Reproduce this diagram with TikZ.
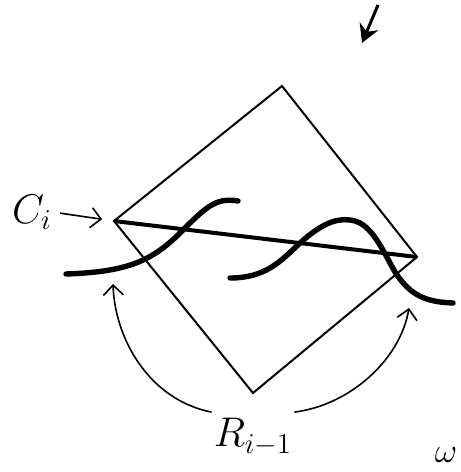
\documentclass[tikz,border=0pt]{standalone}
\usetikzlibrary{arrows.meta,calc,positioning}
\tikzset{
  edge/.style={line width=1pt, draw=black},
  chord/.style={line width=2pt, draw=black},
  wave/.style={line width=2.7pt, draw=black, line cap=round},
  arrow/.style={-{Straight Barb[length=5pt,width=10pt]}, line width=0.8pt, draw=black},
  pointer/.style={-{Stealth[length=9pt,width=10pt]}, line width=1.5pt, draw=black},
  lettering/.style={font=\fontsize{20}{24}\selectfont, inner sep=0pt}
}

\begin{document}
\begin{tikzpicture}[x=0.5pt,y=-0.5pt]
  \useasboundingbox (0,0) rectangle (461,472);
  % corners of the square
  \coordinate (top) at (282,86);
  \coordinate (lft) at (114,221);
  \coordinate (bot) at (253,393);
  \coordinate (rgt) at (417,257);
  \draw[edge] (top) -- (rgt) -- (bot) -- (lft) -- cycle;
  \draw[chord] (lft) -- (rgt);

  % the two strands
  \draw[wave] (66,274) .. controls (125,272) and (150,262) .. (178,235)
    .. controls (205,208) and (215,197) .. (238,201);
  \draw[wave] (230,278) .. controls (265,278) and (280,262) .. (300,243)
    .. controls (320,225) and (335,218) .. (350,220)
    .. controls (370,222) and (380,245) .. (395,272)
    .. controls (410,295) and (425,302) .. (453,303);

  % labels
  \node[lettering] (ci) at (32,212) {$C_i$};
  \node[lettering] (rim) at (253,437) {$R_{i-1}$};
  \node[lettering, font=\fontsize{17}{20}\selectfont] (om) at (446,455) {$\omega$};

  \coordinate (hitL) at (113,284);
  \coordinate (hitR) at (409,308);
  \coordinate (ptrA) at (378,5);
  \coordinate (ptrB) at (362,43);

  \draw[arrow, shorten <=4pt, shorten >=6pt] (ci.east) -- (lft);
  \draw[arrow] ([shift={(-2,-6)}]rim.north west) .. controls (150,400) and (115,340) .. (hitL);
  \draw[arrow] ([shift={(2,-6)}]rim.north east) .. controls (350,405) and (400,360) .. (hitR);
  \draw[pointer] (ptrA) -- (ptrB);
\end{tikzpicture}
\end{document}
